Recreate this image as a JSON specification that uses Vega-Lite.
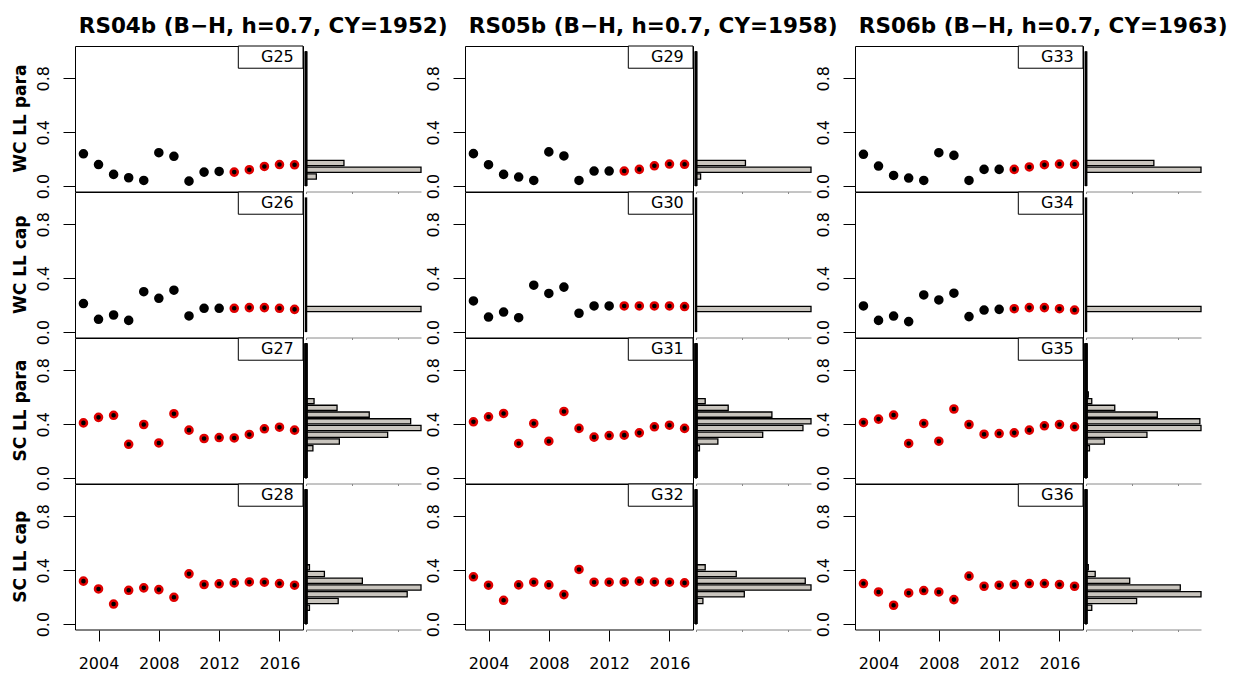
{
  "$schema": "https://vega.github.io/schema/vega-lite/v6.json",
  "padding": {"left": 11, "top": 15, "right": 0, "bottom": 0},
  "background": "white",
  "config": {
    "font": "DejaVu Sans",
    "view": {"stroke": "black", "strokeWidth": 1},
    "axis": {"labelFont": "DejaVu Sans", "labelFontSize": 16, "labelColor": "black", "tickColor": "black", "domainColor": "black", "grid": false, "title": null},
    "header": {"labelFont": "DejaVu Sans", "labelColor": "black"}
  },
  "datasets": {
    "pts": [
      {"s":"RS04b","v":"WC LL para","g":"G25","year":2003,"val":0.240,"flag":"base"},
      {"s":"RS04b","v":"WC LL para","g":"G25","year":2004,"val":0.160,"flag":"base"},
      {"s":"RS04b","v":"WC LL para","g":"G25","year":2005,"val":0.087,"flag":"base"},
      {"s":"RS04b","v":"WC LL para","g":"G25","year":2006,"val":0.062,"flag":"base"},
      {"s":"RS04b","v":"WC LL para","g":"G25","year":2007,"val":0.042,"flag":"base"},
      {"s":"RS04b","v":"WC LL para","g":"G25","year":2008,"val":0.248,"flag":"base"},
      {"s":"RS04b","v":"WC LL para","g":"G25","year":2009,"val":0.221,"flag":"base"},
      {"s":"RS04b","v":"WC LL para","g":"G25","year":2010,"val":0.037,"flag":"base"},
      {"s":"RS04b","v":"WC LL para","g":"G25","year":2011,"val":0.104,"flag":"base"},
      {"s":"RS04b","v":"WC LL para","g":"G25","year":2012,"val":0.109,"flag":"base"},
      {"s":"RS04b","v":"WC LL para","g":"G25","year":2013,"val":0.104,"flag":"ring"},
      {"s":"RS04b","v":"WC LL para","g":"G25","year":2014,"val":0.122,"flag":"ring"},
      {"s":"RS04b","v":"WC LL para","g":"G25","year":2015,"val":0.146,"flag":"ring"},
      {"s":"RS04b","v":"WC LL para","g":"G25","year":2016,"val":0.160,"flag":"ring"},
      {"s":"RS04b","v":"WC LL para","g":"G25","year":2017,"val":0.158,"flag":"ring"},
      {"s":"RS04b","v":"WC LL cap","g":"G26","year":2003,"val":0.212,"flag":"base"},
      {"s":"RS04b","v":"WC LL cap","g":"G26","year":2004,"val":0.095,"flag":"base"},
      {"s":"RS04b","v":"WC LL cap","g":"G26","year":2005,"val":0.127,"flag":"base"},
      {"s":"RS04b","v":"WC LL cap","g":"G26","year":2006,"val":0.087,"flag":"base"},
      {"s":"RS04b","v":"WC LL cap","g":"G26","year":2007,"val":0.300,"flag":"base"},
      {"s":"RS04b","v":"WC LL cap","g":"G26","year":2008,"val":0.251,"flag":"base"},
      {"s":"RS04b","v":"WC LL cap","g":"G26","year":2009,"val":0.311,"flag":"base"},
      {"s":"RS04b","v":"WC LL cap","g":"G26","year":2010,"val":0.120,"flag":"base"},
      {"s":"RS04b","v":"WC LL cap","g":"G26","year":2011,"val":0.177,"flag":"base"},
      {"s":"RS04b","v":"WC LL cap","g":"G26","year":2012,"val":0.177,"flag":"base"},
      {"s":"RS04b","v":"WC LL cap","g":"G26","year":2013,"val":0.177,"flag":"ring"},
      {"s":"RS04b","v":"WC LL cap","g":"G26","year":2014,"val":0.182,"flag":"ring"},
      {"s":"RS04b","v":"WC LL cap","g":"G26","year":2015,"val":0.182,"flag":"ring"},
      {"s":"RS04b","v":"WC LL cap","g":"G26","year":2016,"val":0.177,"flag":"ring"},
      {"s":"RS04b","v":"WC LL cap","g":"G26","year":2017,"val":0.169,"flag":"ring"},
      {"s":"RS04b","v":"SC LL para","g":"G27","year":2003,"val":0.410,"flag":"ring"},
      {"s":"RS04b","v":"SC LL para","g":"G27","year":2004,"val":0.451,"flag":"ring"},
      {"s":"RS04b","v":"SC LL para","g":"G27","year":2005,"val":0.466,"flag":"ring"},
      {"s":"RS04b","v":"SC LL para","g":"G27","year":2006,"val":0.251,"flag":"ring"},
      {"s":"RS04b","v":"SC LL para","g":"G27","year":2007,"val":0.398,"flag":"ring"},
      {"s":"RS04b","v":"SC LL para","g":"G27","year":2008,"val":0.261,"flag":"ring"},
      {"s":"RS04b","v":"SC LL para","g":"G27","year":2009,"val":0.478,"flag":"ring"},
      {"s":"RS04b","v":"SC LL para","g":"G27","year":2010,"val":0.356,"flag":"ring"},
      {"s":"RS04b","v":"SC LL para","g":"G27","year":2011,"val":0.294,"flag":"ring"},
      {"s":"RS04b","v":"SC LL para","g":"G27","year":2012,"val":0.301,"flag":"ring"},
      {"s":"RS04b","v":"SC LL para","g":"G27","year":2013,"val":0.298,"flag":"ring"},
      {"s":"RS04b","v":"SC LL para","g":"G27","year":2014,"val":0.324,"flag":"ring"},
      {"s":"RS04b","v":"SC LL para","g":"G27","year":2015,"val":0.366,"flag":"ring"},
      {"s":"RS04b","v":"SC LL para","g":"G27","year":2016,"val":0.378,"flag":"ring"},
      {"s":"RS04b","v":"SC LL para","g":"G27","year":2017,"val":0.356,"flag":"ring"},
      {"s":"RS04b","v":"SC LL cap","g":"G28","year":2003,"val":0.319,"flag":"ring"},
      {"s":"RS04b","v":"SC LL cap","g":"G28","year":2004,"val":0.261,"flag":"ring"},
      {"s":"RS04b","v":"SC LL cap","g":"G28","year":2005,"val":0.149,"flag":"ring"},
      {"s":"RS04b","v":"SC LL cap","g":"G28","year":2006,"val":0.251,"flag":"ring"},
      {"s":"RS04b","v":"SC LL cap","g":"G28","year":2007,"val":0.269,"flag":"ring"},
      {"s":"RS04b","v":"SC LL cap","g":"G28","year":2008,"val":0.256,"flag":"ring"},
      {"s":"RS04b","v":"SC LL cap","g":"G28","year":2009,"val":0.199,"flag":"ring"},
      {"s":"RS04b","v":"SC LL cap","g":"G28","year":2010,"val":0.373,"flag":"ring"},
      {"s":"RS04b","v":"SC LL cap","g":"G28","year":2011,"val":0.294,"flag":"ring"},
      {"s":"RS04b","v":"SC LL cap","g":"G28","year":2012,"val":0.299,"flag":"ring"},
      {"s":"RS04b","v":"SC LL cap","g":"G28","year":2013,"val":0.306,"flag":"ring"},
      {"s":"RS04b","v":"SC LL cap","g":"G28","year":2014,"val":0.313,"flag":"ring"},
      {"s":"RS04b","v":"SC LL cap","g":"G28","year":2015,"val":0.311,"flag":"ring"},
      {"s":"RS04b","v":"SC LL cap","g":"G28","year":2016,"val":0.301,"flag":"ring"},
      {"s":"RS04b","v":"SC LL cap","g":"G28","year":2017,"val":0.289,"flag":"ring"},
      {"s":"RS05b","v":"WC LL para","g":"G29","year":2003,"val":0.241,"flag":"base"},
      {"s":"RS05b","v":"WC LL para","g":"G29","year":2004,"val":0.159,"flag":"base"},
      {"s":"RS05b","v":"WC LL para","g":"G29","year":2005,"val":0.087,"flag":"base"},
      {"s":"RS05b","v":"WC LL para","g":"G29","year":2006,"val":0.067,"flag":"base"},
      {"s":"RS05b","v":"WC LL para","g":"G29","year":2007,"val":0.042,"flag":"base"},
      {"s":"RS05b","v":"WC LL para","g":"G29","year":2008,"val":0.254,"flag":"base"},
      {"s":"RS05b","v":"WC LL para","g":"G29","year":2009,"val":0.224,"flag":"base"},
      {"s":"RS05b","v":"WC LL para","g":"G29","year":2010,"val":0.042,"flag":"base"},
      {"s":"RS05b","v":"WC LL para","g":"G29","year":2011,"val":0.112,"flag":"base"},
      {"s":"RS05b","v":"WC LL para","g":"G29","year":2012,"val":0.112,"flag":"base"},
      {"s":"RS05b","v":"WC LL para","g":"G29","year":2013,"val":0.112,"flag":"ring"},
      {"s":"RS05b","v":"WC LL para","g":"G29","year":2014,"val":0.124,"flag":"ring"},
      {"s":"RS05b","v":"WC LL para","g":"G29","year":2015,"val":0.151,"flag":"ring"},
      {"s":"RS05b","v":"WC LL para","g":"G29","year":2016,"val":0.164,"flag":"ring"},
      {"s":"RS05b","v":"WC LL para","g":"G29","year":2017,"val":0.162,"flag":"ring"},
      {"s":"RS05b","v":"WC LL cap","g":"G30","year":2003,"val":0.231,"flag":"base"},
      {"s":"RS05b","v":"WC LL cap","g":"G30","year":2004,"val":0.112,"flag":"base"},
      {"s":"RS05b","v":"WC LL cap","g":"G30","year":2005,"val":0.149,"flag":"base"},
      {"s":"RS05b","v":"WC LL cap","g":"G30","year":2006,"val":0.107,"flag":"base"},
      {"s":"RS05b","v":"WC LL cap","g":"G30","year":2007,"val":0.348,"flag":"base"},
      {"s":"RS05b","v":"WC LL cap","g":"G30","year":2008,"val":0.287,"flag":"base"},
      {"s":"RS05b","v":"WC LL cap","g":"G30","year":2009,"val":0.334,"flag":"base"},
      {"s":"RS05b","v":"WC LL cap","g":"G30","year":2010,"val":0.140,"flag":"base"},
      {"s":"RS05b","v":"WC LL cap","g":"G30","year":2011,"val":0.194,"flag":"base"},
      {"s":"RS05b","v":"WC LL cap","g":"G30","year":2012,"val":0.194,"flag":"base"},
      {"s":"RS05b","v":"WC LL cap","g":"G30","year":2013,"val":0.194,"flag":"ring"},
      {"s":"RS05b","v":"WC LL cap","g":"G30","year":2014,"val":0.194,"flag":"ring"},
      {"s":"RS05b","v":"WC LL cap","g":"G30","year":2015,"val":0.194,"flag":"ring"},
      {"s":"RS05b","v":"WC LL cap","g":"G30","year":2016,"val":0.194,"flag":"ring"},
      {"s":"RS05b","v":"WC LL cap","g":"G30","year":2017,"val":0.190,"flag":"ring"},
      {"s":"RS05b","v":"SC LL para","g":"G31","year":2003,"val":0.418,"flag":"ring"},
      {"s":"RS05b","v":"SC LL para","g":"G31","year":2004,"val":0.455,"flag":"ring"},
      {"s":"RS05b","v":"SC LL para","g":"G31","year":2005,"val":0.480,"flag":"ring"},
      {"s":"RS05b","v":"SC LL para","g":"G31","year":2006,"val":0.257,"flag":"ring"},
      {"s":"RS05b","v":"SC LL para","g":"G31","year":2007,"val":0.406,"flag":"ring"},
      {"s":"RS05b","v":"SC LL para","g":"G31","year":2008,"val":0.274,"flag":"ring"},
      {"s":"RS05b","v":"SC LL para","g":"G31","year":2009,"val":0.495,"flag":"ring"},
      {"s":"RS05b","v":"SC LL para","g":"G31","year":2010,"val":0.369,"flag":"ring"},
      {"s":"RS05b","v":"SC LL para","g":"G31","year":2011,"val":0.304,"flag":"ring"},
      {"s":"RS05b","v":"SC LL para","g":"G31","year":2012,"val":0.316,"flag":"ring"},
      {"s":"RS05b","v":"SC LL para","g":"G31","year":2013,"val":0.319,"flag":"ring"},
      {"s":"RS05b","v":"SC LL para","g":"G31","year":2014,"val":0.336,"flag":"ring"},
      {"s":"RS05b","v":"SC LL para","g":"G31","year":2015,"val":0.381,"flag":"ring"},
      {"s":"RS05b","v":"SC LL para","g":"G31","year":2016,"val":0.393,"flag":"ring"},
      {"s":"RS05b","v":"SC LL para","g":"G31","year":2017,"val":0.369,"flag":"ring"},
      {"s":"RS05b","v":"SC LL cap","g":"G32","year":2003,"val":0.351,"flag":"ring"},
      {"s":"RS05b","v":"SC LL cap","g":"G32","year":2004,"val":0.289,"flag":"ring"},
      {"s":"RS05b","v":"SC LL cap","g":"G32","year":2005,"val":0.177,"flag":"ring"},
      {"s":"RS05b","v":"SC LL cap","g":"G32","year":2006,"val":0.291,"flag":"ring"},
      {"s":"RS05b","v":"SC LL cap","g":"G32","year":2007,"val":0.311,"flag":"ring"},
      {"s":"RS05b","v":"SC LL cap","g":"G32","year":2008,"val":0.291,"flag":"ring"},
      {"s":"RS05b","v":"SC LL cap","g":"G32","year":2009,"val":0.219,"flag":"ring"},
      {"s":"RS05b","v":"SC LL cap","g":"G32","year":2010,"val":0.406,"flag":"ring"},
      {"s":"RS05b","v":"SC LL cap","g":"G32","year":2011,"val":0.311,"flag":"ring"},
      {"s":"RS05b","v":"SC LL cap","g":"G32","year":2012,"val":0.311,"flag":"ring"},
      {"s":"RS05b","v":"SC LL cap","g":"G32","year":2013,"val":0.313,"flag":"ring"},
      {"s":"RS05b","v":"SC LL cap","g":"G32","year":2014,"val":0.319,"flag":"ring"},
      {"s":"RS05b","v":"SC LL cap","g":"G32","year":2015,"val":0.313,"flag":"ring"},
      {"s":"RS05b","v":"SC LL cap","g":"G32","year":2016,"val":0.311,"flag":"ring"},
      {"s":"RS05b","v":"SC LL cap","g":"G32","year":2017,"val":0.306,"flag":"ring"},
      {"s":"RS06b","v":"WC LL para","g":"G33","year":2003,"val":0.236,"flag":"base"},
      {"s":"RS06b","v":"WC LL para","g":"G33","year":2004,"val":0.149,"flag":"base"},
      {"s":"RS06b","v":"WC LL para","g":"G33","year":2005,"val":0.079,"flag":"base"},
      {"s":"RS06b","v":"WC LL para","g":"G33","year":2006,"val":0.060,"flag":"base"},
      {"s":"RS06b","v":"WC LL para","g":"G33","year":2007,"val":0.042,"flag":"base"},
      {"s":"RS06b","v":"WC LL para","g":"G33","year":2008,"val":0.248,"flag":"base"},
      {"s":"RS06b","v":"WC LL para","g":"G33","year":2009,"val":0.228,"flag":"base"},
      {"s":"RS06b","v":"WC LL para","g":"G33","year":2010,"val":0.042,"flag":"base"},
      {"s":"RS06b","v":"WC LL para","g":"G33","year":2011,"val":0.124,"flag":"base"},
      {"s":"RS06b","v":"WC LL para","g":"G33","year":2012,"val":0.124,"flag":"base"},
      {"s":"RS06b","v":"WC LL para","g":"G33","year":2013,"val":0.124,"flag":"ring"},
      {"s":"RS06b","v":"WC LL para","g":"G33","year":2014,"val":0.142,"flag":"ring"},
      {"s":"RS06b","v":"WC LL para","g":"G33","year":2015,"val":0.159,"flag":"ring"},
      {"s":"RS06b","v":"WC LL para","g":"G33","year":2016,"val":0.164,"flag":"ring"},
      {"s":"RS06b","v":"WC LL para","g":"G33","year":2017,"val":0.162,"flag":"ring"},
      {"s":"RS06b","v":"WC LL cap","g":"G34","year":2003,"val":0.194,"flag":"base"},
      {"s":"RS06b","v":"WC LL cap","g":"G34","year":2004,"val":0.087,"flag":"base"},
      {"s":"RS06b","v":"WC LL cap","g":"G34","year":2005,"val":0.119,"flag":"base"},
      {"s":"RS06b","v":"WC LL cap","g":"G34","year":2006,"val":0.078,"flag":"base"},
      {"s":"RS06b","v":"WC LL cap","g":"G34","year":2007,"val":0.276,"flag":"base"},
      {"s":"RS06b","v":"WC LL cap","g":"G34","year":2008,"val":0.239,"flag":"base"},
      {"s":"RS06b","v":"WC LL cap","g":"G34","year":2009,"val":0.289,"flag":"base"},
      {"s":"RS06b","v":"WC LL cap","g":"G34","year":2010,"val":0.115,"flag":"base"},
      {"s":"RS06b","v":"WC LL cap","g":"G34","year":2011,"val":0.164,"flag":"base"},
      {"s":"RS06b","v":"WC LL cap","g":"G34","year":2012,"val":0.169,"flag":"base"},
      {"s":"RS06b","v":"WC LL cap","g":"G34","year":2013,"val":0.174,"flag":"ring"},
      {"s":"RS06b","v":"WC LL cap","g":"G34","year":2014,"val":0.182,"flag":"ring"},
      {"s":"RS06b","v":"WC LL cap","g":"G34","year":2015,"val":0.182,"flag":"ring"},
      {"s":"RS06b","v":"WC LL cap","g":"G34","year":2016,"val":0.174,"flag":"ring"},
      {"s":"RS06b","v":"WC LL cap","g":"G34","year":2017,"val":0.164,"flag":"ring"},
      {"s":"RS06b","v":"SC LL para","g":"G35","year":2003,"val":0.413,"flag":"ring"},
      {"s":"RS06b","v":"SC LL para","g":"G35","year":2004,"val":0.438,"flag":"ring"},
      {"s":"RS06b","v":"SC LL para","g":"G35","year":2005,"val":0.468,"flag":"ring"},
      {"s":"RS06b","v":"SC LL para","g":"G35","year":2006,"val":0.257,"flag":"ring"},
      {"s":"RS06b","v":"SC LL para","g":"G35","year":2007,"val":0.406,"flag":"ring"},
      {"s":"RS06b","v":"SC LL para","g":"G35","year":2008,"val":0.274,"flag":"ring"},
      {"s":"RS06b","v":"SC LL para","g":"G35","year":2009,"val":0.513,"flag":"ring"},
      {"s":"RS06b","v":"SC LL para","g":"G35","year":2010,"val":0.398,"flag":"ring"},
      {"s":"RS06b","v":"SC LL para","g":"G35","year":2011,"val":0.326,"flag":"ring"},
      {"s":"RS06b","v":"SC LL para","g":"G35","year":2012,"val":0.331,"flag":"ring"},
      {"s":"RS06b","v":"SC LL para","g":"G35","year":2013,"val":0.336,"flag":"ring"},
      {"s":"RS06b","v":"SC LL para","g":"G35","year":2014,"val":0.356,"flag":"ring"},
      {"s":"RS06b","v":"SC LL para","g":"G35","year":2015,"val":0.388,"flag":"ring"},
      {"s":"RS06b","v":"SC LL para","g":"G35","year":2016,"val":0.398,"flag":"ring"},
      {"s":"RS06b","v":"SC LL para","g":"G35","year":2017,"val":0.381,"flag":"ring"},
      {"s":"RS06b","v":"SC LL cap","g":"G36","year":2003,"val":0.301,"flag":"ring"},
      {"s":"RS06b","v":"SC LL cap","g":"G36","year":2004,"val":0.239,"flag":"ring"},
      {"s":"RS06b","v":"SC LL cap","g":"G36","year":2005,"val":0.140,"flag":"ring"},
      {"s":"RS06b","v":"SC LL cap","g":"G36","year":2006,"val":0.231,"flag":"ring"},
      {"s":"RS06b","v":"SC LL cap","g":"G36","year":2007,"val":0.249,"flag":"ring"},
      {"s":"RS06b","v":"SC LL cap","g":"G36","year":2008,"val":0.239,"flag":"ring"},
      {"s":"RS06b","v":"SC LL cap","g":"G36","year":2009,"val":0.182,"flag":"ring"},
      {"s":"RS06b","v":"SC LL cap","g":"G36","year":2010,"val":0.356,"flag":"ring"},
      {"s":"RS06b","v":"SC LL cap","g":"G36","year":2011,"val":0.281,"flag":"ring"},
      {"s":"RS06b","v":"SC LL cap","g":"G36","year":2012,"val":0.289,"flag":"ring"},
      {"s":"RS06b","v":"SC LL cap","g":"G36","year":2013,"val":0.294,"flag":"ring"},
      {"s":"RS06b","v":"SC LL cap","g":"G36","year":2014,"val":0.301,"flag":"ring"},
      {"s":"RS06b","v":"SC LL cap","g":"G36","year":2015,"val":0.301,"flag":"ring"},
      {"s":"RS06b","v":"SC LL cap","g":"G36","year":2016,"val":0.294,"flag":"ring"},
      {"s":"RS06b","v":"SC LL cap","g":"G36","year":2017,"val":0.281,"flag":"ring"}
    ],
    "hist": [
      {"s":"RS04b","v":"WC LL para","lo":0.05,"hi":0.10,"freq":9},
      {"s":"RS04b","v":"WC LL para","lo":0.10,"hi":0.15,"freq":100},
      {"s":"RS04b","v":"WC LL para","lo":0.15,"hi":0.20,"freq":33},
      {"s":"RS04b","v":"WC LL cap","lo":0.15,"hi":0.20,"freq":100},
      {"s":"RS04b","v":"SC LL para","lo":0.20,"hi":0.25,"freq":6},
      {"s":"RS04b","v":"SC LL para","lo":0.25,"hi":0.30,"freq":29},
      {"s":"RS04b","v":"SC LL para","lo":0.30,"hi":0.35,"freq":71},
      {"s":"RS04b","v":"SC LL para","lo":0.35,"hi":0.40,"freq":100},
      {"s":"RS04b","v":"SC LL para","lo":0.40,"hi":0.45,"freq":91},
      {"s":"RS04b","v":"SC LL para","lo":0.45,"hi":0.50,"freq":55},
      {"s":"RS04b","v":"SC LL para","lo":0.50,"hi":0.55,"freq":27},
      {"s":"RS04b","v":"SC LL para","lo":0.55,"hi":0.60,"freq":7},
      {"s":"RS04b","v":"SC LL cap","lo":0.10,"hi":0.15,"freq":3},
      {"s":"RS04b","v":"SC LL cap","lo":0.15,"hi":0.20,"freq":28},
      {"s":"RS04b","v":"SC LL cap","lo":0.20,"hi":0.25,"freq":88},
      {"s":"RS04b","v":"SC LL cap","lo":0.25,"hi":0.30,"freq":100},
      {"s":"RS04b","v":"SC LL cap","lo":0.30,"hi":0.35,"freq":49},
      {"s":"RS04b","v":"SC LL cap","lo":0.35,"hi":0.40,"freq":16},
      {"s":"RS04b","v":"SC LL cap","lo":0.40,"hi":0.45,"freq":3},
      {"s":"RS05b","v":"WC LL para","lo":0.05,"hi":0.10,"freq":4},
      {"s":"RS05b","v":"WC LL para","lo":0.10,"hi":0.15,"freq":100},
      {"s":"RS05b","v":"WC LL para","lo":0.15,"hi":0.20,"freq":43},
      {"s":"RS05b","v":"WC LL cap","lo":0.15,"hi":0.20,"freq":100},
      {"s":"RS05b","v":"SC LL para","lo":0.20,"hi":0.25,"freq":3},
      {"s":"RS05b","v":"SC LL para","lo":0.25,"hi":0.30,"freq":19},
      {"s":"RS05b","v":"SC LL para","lo":0.30,"hi":0.35,"freq":58},
      {"s":"RS05b","v":"SC LL para","lo":0.35,"hi":0.40,"freq":93},
      {"s":"RS05b","v":"SC LL para","lo":0.40,"hi":0.45,"freq":100},
      {"s":"RS05b","v":"SC LL para","lo":0.45,"hi":0.50,"freq":66},
      {"s":"RS05b","v":"SC LL para","lo":0.50,"hi":0.55,"freq":28},
      {"s":"RS05b","v":"SC LL para","lo":0.55,"hi":0.60,"freq":8},
      {"s":"RS05b","v":"SC LL cap","lo":0.15,"hi":0.20,"freq":6},
      {"s":"RS05b","v":"SC LL cap","lo":0.20,"hi":0.25,"freq":42},
      {"s":"RS05b","v":"SC LL cap","lo":0.25,"hi":0.30,"freq":100},
      {"s":"RS05b","v":"SC LL cap","lo":0.30,"hi":0.35,"freq":95},
      {"s":"RS05b","v":"SC LL cap","lo":0.35,"hi":0.40,"freq":35},
      {"s":"RS05b","v":"SC LL cap","lo":0.40,"hi":0.45,"freq":8},
      {"s":"RS06b","v":"WC LL para","lo":0.10,"hi":0.15,"freq":100},
      {"s":"RS06b","v":"WC LL para","lo":0.15,"hi":0.20,"freq":59},
      {"s":"RS06b","v":"WC LL cap","lo":0.15,"hi":0.20,"freq":100},
      {"s":"RS06b","v":"SC LL para","lo":0.20,"hi":0.25,"freq":3},
      {"s":"RS06b","v":"SC LL para","lo":0.25,"hi":0.30,"freq":16},
      {"s":"RS06b","v":"SC LL para","lo":0.30,"hi":0.35,"freq":53},
      {"s":"RS06b","v":"SC LL para","lo":0.35,"hi":0.40,"freq":100},
      {"s":"RS06b","v":"SC LL para","lo":0.40,"hi":0.45,"freq":99},
      {"s":"RS06b","v":"SC LL para","lo":0.45,"hi":0.50,"freq":62},
      {"s":"RS06b","v":"SC LL para","lo":0.50,"hi":0.55,"freq":25},
      {"s":"RS06b","v":"SC LL para","lo":0.55,"hi":0.60,"freq":5},
      {"s":"RS06b","v":"SC LL para","lo":0.60,"hi":0.65,"freq":2},
      {"s":"RS06b","v":"SC LL cap","lo":0.10,"hi":0.15,"freq":5},
      {"s":"RS06b","v":"SC LL cap","lo":0.15,"hi":0.20,"freq":44},
      {"s":"RS06b","v":"SC LL cap","lo":0.20,"hi":0.25,"freq":100},
      {"s":"RS06b","v":"SC LL cap","lo":0.25,"hi":0.30,"freq":82},
      {"s":"RS06b","v":"SC LL cap","lo":0.30,"hi":0.35,"freq":38},
      {"s":"RS06b","v":"SC LL cap","lo":0.35,"hi":0.40,"freq":8},
      {"s":"RS06b","v":"SC LL cap","lo":0.40,"hi":0.45,"freq":2}
    ]
  },
  "spacing": -23,
  "hconcat": [
    {
      "title": {"text": "RS04b (B−H, h=0.7, CY=1952)", "anchor": "end", "dx": 26, "font": "DejaVu Sans", "fontSize": 21.5, "fontWeight": "bold", "color": "black", "offset": 8},
      "spacing": 0,
      "hconcat": [
        {
          "data": {"name": "pts"},
          "transform": [{"filter": "datum.s == 'RS04b'"}],
          "facet": {"row": {"field": "v", "type": "nominal", "title": null, "sort": ["WC LL para", "WC LL cap", "SC LL para", "SC LL cap"],
            "header": {"labelAngle": -90, "labelOrient": "left", "labelFontWeight": "bold", "labelFontSize": 17, "labelPadding": -3}}},
          "spacing": {"row": 0},
          "bounds": "flush",
          "spec": {
            "width": 228, "height": 145.5,
            "layer": [
              {
                "mark": {"type": "circle", "size": 50, "opacity": 1, "strokeWidth": 2.5, "fill": "black"},
                "encoding": {
                  "x": {"field": "year", "type": "quantitative", "scale": {"domain": [2002.44, 2017.56], "nice": false, "zero": false},
                    "axis": {"values": [2004, 2006, 2008, 2010, 2012, 2014, 2016], "format": "d", "labelExpr": "datum.value % 4 == 0 ? datum.label : ''", "tickSize": 11, "labelPadding": 14, "domain": false}},
                  "y": {"field": "val", "type": "quantitative", "scale": {"domain": [-0.04, 1.04], "nice": false, "zero": false},
                    "axis": {"values": [0, 0.2, 0.4, 0.6, 0.8, 1], "labelExpr": "datum.value == 0 || datum.value == 0.4 || datum.value == 0.8 ? format(datum.value, '.1f') : ''", "tickSize": 12, "labelAngle": -90, "labelPadding": 12, "domain": false}},
                  "stroke": {"field": "flag", "type": "nominal", "scale": {"domain": ["base", "ring"], "range": ["black", "#e00000"]}, "legend": null}
                }
              },
              {
                "transform": [{"filter": "datum.year == 2017"}],
                "mark": {"type": "rect", "fill": "white", "stroke": "black", "strokeWidth": 1},
                "encoding": {"x": {"datum": 2013.27}, "x2": {"datum": 2017.56}, "y": {"datum": 0.875}, "y2": {"datum": 1.04}}
              },
              {
                "transform": [{"filter": "datum.year == 2017"}],
                "mark": {"type": "text", "align": "right", "baseline": "middle", "fontSize": 16, "font": "DejaVu Sans", "color": "black"},
                "encoding": {"x": {"datum": 2016.95}, "y": {"datum": 0.957}, "text": {"field": "g"}}
              }
            ]
          }
        },
        {
          "data": {"name": "hist"},
          "transform": [{"filter": "datum.s == 'RS04b'"}],
          "facet": {"row": {"field": "v", "type": "nominal", "title": null, "sort": ["WC LL para", "WC LL cap", "SC LL para", "SC LL cap"], "header": {"labels": false}}},
          "spacing": {"row": 0},
          "bounds": "flush",
          "resolve": {"axis": {"x": "independent"}},
          "spec": {
            "width": 115, "height": 145.5,
            "view": {"stroke": null},
            "layer": [
              {
                "mark": {"type": "bar", "fill": "#c9c5be", "stroke": "black", "strokeWidth": 1.3, "binSpacing": 1.5},
                "encoding": {
                  "y": {"field": "lo", "type": "quantitative", "bin": {"binned": true, "step": 0.05}, "scale": {"domain": [-0.04, 1.04], "nice": false, "zero": false}, "axis": null},
                  "y2": {"field": "hi"},
                  "x": {"field": "freq", "type": "quantitative", "scale": {"domain": [0, 100], "nice": false},
                    "axis": {"values": [0, 20, 40, 60, 80, 100], "labels": false, "tickSize": 2, "domainColor": "#8a8a8a", "tickColor": "#8a8a8a"}}
                }
              },
              {
                "mark": {"type": "rule", "strokeWidth": 2.5, "color": "black"},
                "encoding": {"x": {"datum": 0}, "y": {"datum": 0}, "y2": {"datum": 1}}
              }
            ]
          }
        }
      ]
    },
    {
      "title": {"text": "RS05b (B−H, h=0.7, CY=1958)", "anchor": "end", "dx": 26, "font": "DejaVu Sans", "fontSize": 21.5, "fontWeight": "bold", "color": "black", "offset": 8},
      "spacing": 0,
      "hconcat": [
        {
          "data": {"name": "pts"},
          "transform": [{"filter": "datum.s == 'RS05b'"}],
          "facet": {"row": {"field": "v", "type": "nominal", "title": null, "sort": ["WC LL para", "WC LL cap", "SC LL para", "SC LL cap"], "header": {"labels": false}}},
          "spacing": {"row": 0},
          "bounds": "flush",
          "spec": {
            "width": 228, "height": 145.5,
            "layer": [
              {
                "mark": {"type": "circle", "size": 50, "opacity": 1, "strokeWidth": 2.5, "fill": "black"},
                "encoding": {
                  "x": {"field": "year", "type": "quantitative", "scale": {"domain": [2002.44, 2017.56], "nice": false, "zero": false},
                    "axis": {"values": [2004, 2006, 2008, 2010, 2012, 2014, 2016], "format": "d", "labelExpr": "datum.value % 4 == 0 ? datum.label : ''", "tickSize": 11, "labelPadding": 14, "domain": false}},
                  "y": {"field": "val", "type": "quantitative", "scale": {"domain": [-0.04, 1.04], "nice": false, "zero": false},
                    "axis": {"values": [0, 0.2, 0.4, 0.6, 0.8, 1], "labelExpr": "datum.value == 0 || datum.value == 0.4 || datum.value == 0.8 ? format(datum.value, '.1f') : ''", "tickSize": 12, "labelAngle": -90, "labelPadding": 12, "domain": false}},
                  "stroke": {"field": "flag", "type": "nominal", "scale": {"domain": ["base", "ring"], "range": ["black", "#e00000"]}, "legend": null}
                }
              },
              {
                "transform": [{"filter": "datum.year == 2017"}],
                "mark": {"type": "rect", "fill": "white", "stroke": "black", "strokeWidth": 1},
                "encoding": {"x": {"datum": 2013.27}, "x2": {"datum": 2017.56}, "y": {"datum": 0.875}, "y2": {"datum": 1.04}}
              },
              {
                "transform": [{"filter": "datum.year == 2017"}],
                "mark": {"type": "text", "align": "right", "baseline": "middle", "fontSize": 16, "font": "DejaVu Sans", "color": "black"},
                "encoding": {"x": {"datum": 2016.95}, "y": {"datum": 0.957}, "text": {"field": "g"}}
              }
            ]
          }
        },
        {
          "data": {"name": "hist"},
          "transform": [{"filter": "datum.s == 'RS05b'"}],
          "facet": {"row": {"field": "v", "type": "nominal", "title": null, "sort": ["WC LL para", "WC LL cap", "SC LL para", "SC LL cap"], "header": {"labels": false}}},
          "spacing": {"row": 0},
          "bounds": "flush",
          "resolve": {"axis": {"x": "independent"}},
          "spec": {
            "width": 115, "height": 145.5,
            "view": {"stroke": null},
            "layer": [
              {
                "mark": {"type": "bar", "fill": "#c9c5be", "stroke": "black", "strokeWidth": 1.3, "binSpacing": 1.5},
                "encoding": {
                  "y": {"field": "lo", "type": "quantitative", "bin": {"binned": true, "step": 0.05}, "scale": {"domain": [-0.04, 1.04], "nice": false, "zero": false}, "axis": null},
                  "y2": {"field": "hi"},
                  "x": {"field": "freq", "type": "quantitative", "scale": {"domain": [0, 100], "nice": false},
                    "axis": {"values": [0, 20, 40, 60, 80, 100], "labels": false, "tickSize": 2, "domainColor": "#8a8a8a", "tickColor": "#8a8a8a"}}
                }
              },
              {
                "mark": {"type": "rule", "strokeWidth": 2.5, "color": "black"},
                "encoding": {"x": {"datum": 0}, "y": {"datum": 0}, "y2": {"datum": 1}}
              }
            ]
          }
        }
      ]
    },
    {
      "title": {"text": "RS06b (B−H, h=0.7, CY=1963)", "anchor": "end", "dx": 26, "font": "DejaVu Sans", "fontSize": 21.5, "fontWeight": "bold", "color": "black", "offset": 8},
      "spacing": 0,
      "hconcat": [
        {
          "data": {"name": "pts"},
          "transform": [{"filter": "datum.s == 'RS06b'"}],
          "facet": {"row": {"field": "v", "type": "nominal", "title": null, "sort": ["WC LL para", "WC LL cap", "SC LL para", "SC LL cap"], "header": {"labels": false}}},
          "spacing": {"row": 0},
          "bounds": "flush",
          "spec": {
            "width": 228, "height": 145.5,
            "layer": [
              {
                "mark": {"type": "circle", "size": 50, "opacity": 1, "strokeWidth": 2.5, "fill": "black"},
                "encoding": {
                  "x": {"field": "year", "type": "quantitative", "scale": {"domain": [2002.44, 2017.56], "nice": false, "zero": false},
                    "axis": {"values": [2004, 2006, 2008, 2010, 2012, 2014, 2016], "format": "d", "labelExpr": "datum.value % 4 == 0 ? datum.label : ''", "tickSize": 11, "labelPadding": 14, "domain": false}},
                  "y": {"field": "val", "type": "quantitative", "scale": {"domain": [-0.04, 1.04], "nice": false, "zero": false},
                    "axis": {"values": [0, 0.2, 0.4, 0.6, 0.8, 1], "labelExpr": "datum.value == 0 || datum.value == 0.4 || datum.value == 0.8 ? format(datum.value, '.1f') : ''", "tickSize": 12, "labelAngle": -90, "labelPadding": 12, "domain": false}},
                  "stroke": {"field": "flag", "type": "nominal", "scale": {"domain": ["base", "ring"], "range": ["black", "#e00000"]}, "legend": null}
                }
              },
              {
                "transform": [{"filter": "datum.year == 2017"}],
                "mark": {"type": "rect", "fill": "white", "stroke": "black", "strokeWidth": 1},
                "encoding": {"x": {"datum": 2013.27}, "x2": {"datum": 2017.56}, "y": {"datum": 0.875}, "y2": {"datum": 1.04}}
              },
              {
                "transform": [{"filter": "datum.year == 2017"}],
                "mark": {"type": "text", "align": "right", "baseline": "middle", "fontSize": 16, "font": "DejaVu Sans", "color": "black"},
                "encoding": {"x": {"datum": 2016.95}, "y": {"datum": 0.957}, "text": {"field": "g"}}
              }
            ]
          }
        },
        {
          "data": {"name": "hist"},
          "transform": [{"filter": "datum.s == 'RS06b'"}],
          "facet": {"row": {"field": "v", "type": "nominal", "title": null, "sort": ["WC LL para", "WC LL cap", "SC LL para", "SC LL cap"], "header": {"labels": false}}},
          "spacing": {"row": 0},
          "bounds": "flush",
          "resolve": {"axis": {"x": "independent"}},
          "spec": {
            "width": 115, "height": 145.5,
            "view": {"stroke": null},
            "layer": [
              {
                "mark": {"type": "bar", "fill": "#c9c5be", "stroke": "black", "strokeWidth": 1.3, "binSpacing": 1.5},
                "encoding": {
                  "y": {"field": "lo", "type": "quantitative", "bin": {"binned": true, "step": 0.05}, "scale": {"domain": [-0.04, 1.04], "nice": false, "zero": false}, "axis": null},
                  "y2": {"field": "hi"},
                  "x": {"field": "freq", "type": "quantitative", "scale": {"domain": [0, 100], "nice": false},
                    "axis": {"values": [0, 20, 40, 60, 80, 100], "labels": false, "tickSize": 2, "domainColor": "#8a8a8a", "tickColor": "#8a8a8a"}}
                }
              },
              {
                "mark": {"type": "rule", "strokeWidth": 2.5, "color": "black"},
                "encoding": {"x": {"datum": 0}, "y": {"datum": 0}, "y2": {"datum": 1}}
              }
            ]
          }
        }
      ]
    }
  ]
}
